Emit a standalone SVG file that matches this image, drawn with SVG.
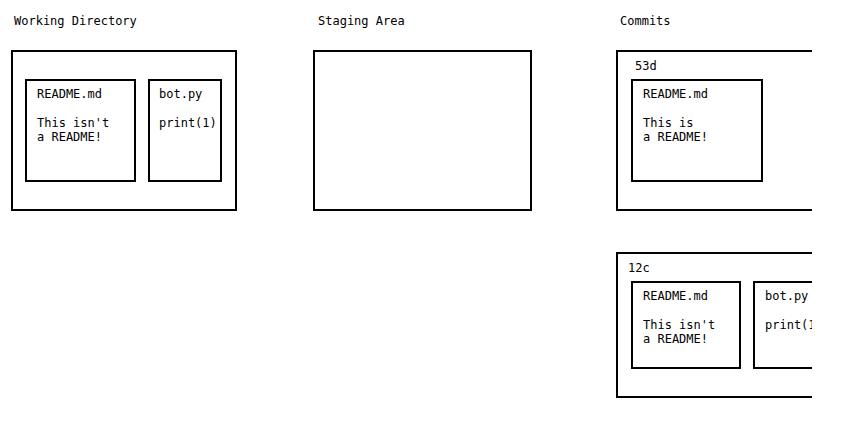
<svg xmlns="http://www.w3.org/2000/svg" width="851" height="423" viewBox="0 0 851 423">
<style>
.box{fill:#fff;stroke:#000;stroke-width:2}
text{font-family:"DejaVu Sans Mono","Liberation Mono",monospace;font-size:12px;fill:#000}
</style>
<defs>
<clipPath id="clip"><rect x="0" y="0" width="812" height="423"/></clipPath>
</defs>
<rect x="0" y="0" width="851" height="423" fill="#fff"/>
<g id="working-directory">
<text x="14" y="25">Working Directory</text>
<rect class="box" x="12" y="51" width="224" height="159"/>
<g id="wd-readme">
<rect class="box" x="26" y="80" width="109" height="101"/>
<text x="37" y="98">README.md</text>
<text x="37" y="127">This isn't</text>
<text x="37" y="141">a README!</text>
</g>
<g id="wd-bot">
<rect class="box" x="149" y="80" width="72" height="101"/>
<text x="159" y="98">bot.py</text>
<text x="159" y="127">print(1)</text>
</g>
</g>
<g id="staging-area">
<text x="318" y="25">Staging Area</text>
<rect class="box" x="314" y="51" width="217" height="159"/>
</g>
<text x="620" y="25">Commits</text>
<g clip-path="url(#clip)">
<g id="commit-53d">
<rect class="box" x="617" y="51" width="260" height="159"/>
<text x="635" y="70">53d</text>
<g id="c53d-readme">
<rect class="box" x="632" y="80" width="130" height="101"/>
<text x="643" y="98">README.md</text>
<text x="643" y="127">This is</text>
<text x="643" y="141">a README!</text>
</g>
</g>
<g id="commit-12c">
<rect class="box" x="617" y="253" width="260" height="144"/>
<text x="628" y="272">12c</text>
<g id="c12c-readme">
<rect class="box" x="632" y="282" width="108" height="86"/>
<text x="643" y="300">README.md</text>
<text x="643" y="329">This isn't</text>
<text x="643" y="343">a README!</text>
</g>
<g id="c12c-bot">
<rect class="box" x="754" y="282" width="80" height="86"/>
<text x="765" y="300">bot.py</text>
<text x="765" y="329">print(1)</text>
</g>
</g>
</g>
<g id="connectors"/>
</svg>
